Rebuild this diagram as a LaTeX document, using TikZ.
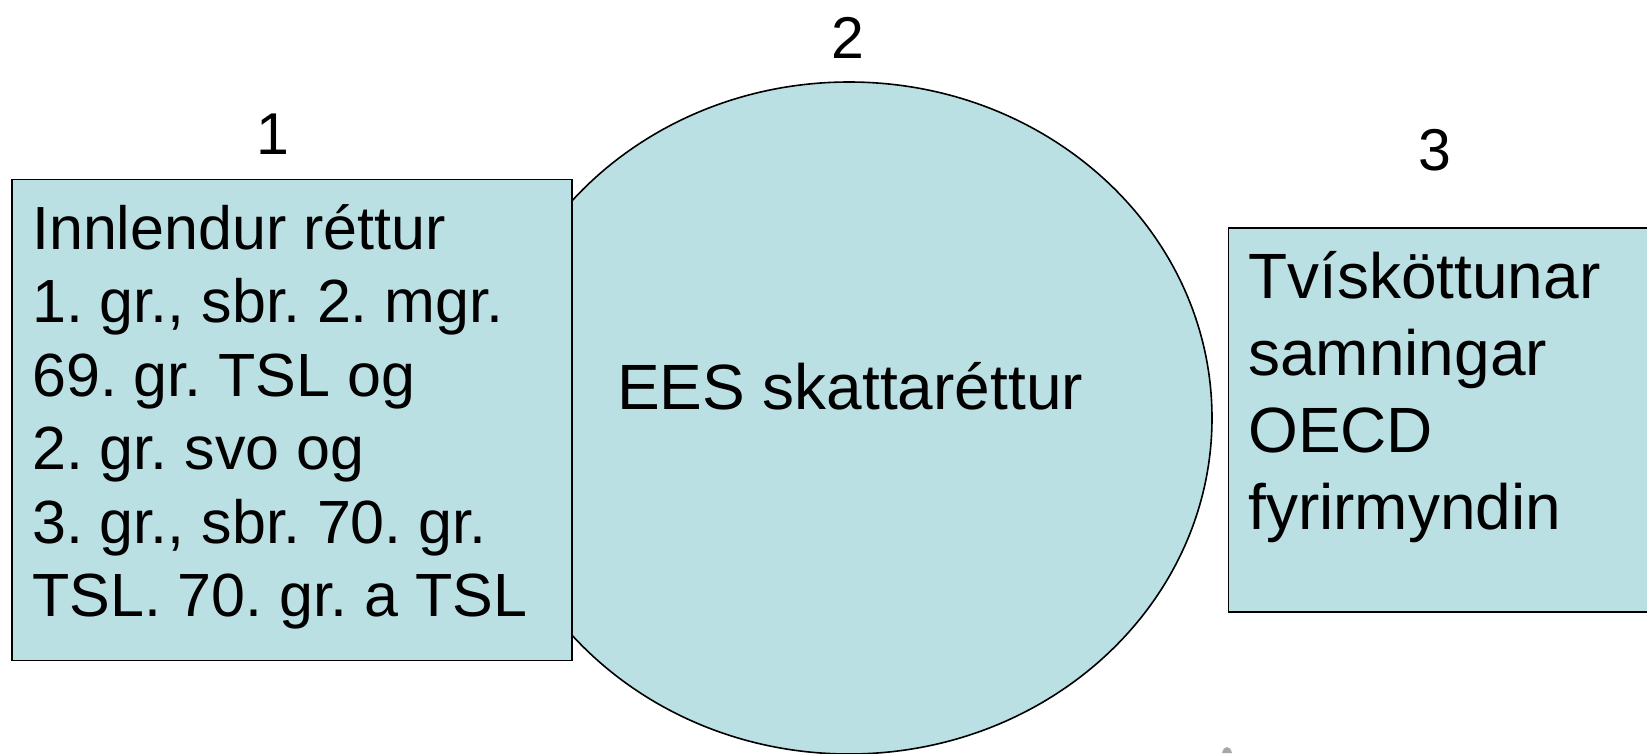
\documentclass[tikz,border=0pt]{standalone}
\usepackage{fontspec}
\setmainfont{Liberation Sans}
\frenchspacing
\definecolor{boxfill}{HTML}{BBE0E3}
\tikzset{
  x=1pt,y=-1pt,
  shapeline/.style={draw=black,line width=1.6pt,fill=boxfill},
  bodyl/.style={inner sep=0pt,anchor=north west,align=left,font=\fontsize{61}{73.5}\selectfont},
  bodyr/.style={inner sep=0pt,anchor=north west,align=left,font=\fontsize{64}{77.2}\selectfont},
  num/.style={inner sep=0pt,font=\fontsize{59}{60}\selectfont}
}
\begin{document}
\begin{tikzpicture}
\useasboundingbox (0,0) rectangle (1647,753);
\begin{scope}
\clip (0,0) rectangle (1647,753);
\draw[shapeline] (849,418) ellipse [x radius=363,y radius=336];
\node[shapeline,inner sep=0pt,minimum width=560pt,minimum height=481pt,anchor=north west] (box1) at (11,178.5) {};
\node[shapeline,inner sep=0pt,minimum width=440pt,minimum height=384pt,anchor=north west] (box3) at (1227.5,227) {};
\fill[gray!70] (1222,753) .. controls (1224,745) and (1230,745) .. (1232,753) -- cycle;
\end{scope}
\node[num] (n1) at (273,134) {1};
\node[num] (n2) at (848,38) {2};
\node[num] (n3) at (1435,150) {3};
\node[bodyl] (t1) at (32,204) {Innlendur réttur\\1. gr., sbr. 2. mgr.\\69. gr. TSL og\\2. gr. svo og\\3. gr., sbr. 70. gr.\\TSL. 70. gr. a TSL};
\node[inner sep=0pt,font=\fontsize{64}{70}\selectfont] (t2) at (850,386) {EES skattaréttur};
\node[bodyr] (t3) at (1248,251) {Tvísköttunar\\samningar\\OECD\\fyrirmyndin};
\end{tikzpicture}
\end{document}
